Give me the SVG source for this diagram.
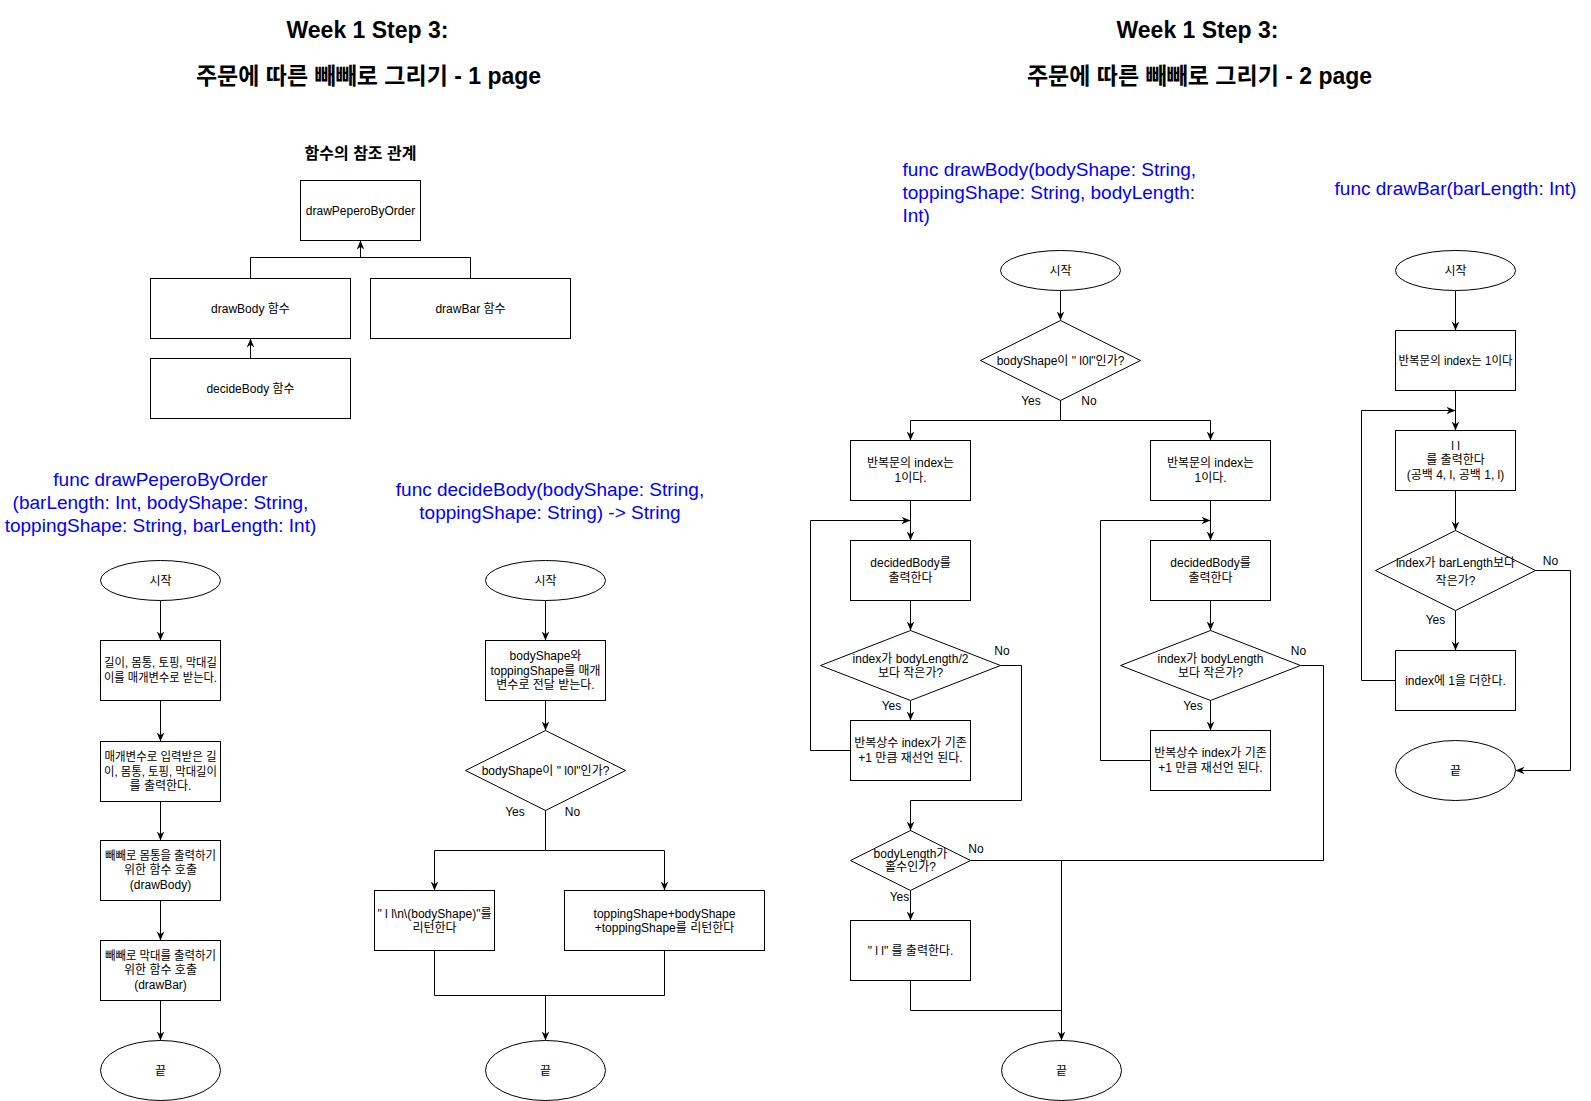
<svg xmlns="http://www.w3.org/2000/svg" width="1591" height="1101" viewBox="0 0 1591 1101">
<defs>
<style>
.n{fill:#fff;stroke:#000;stroke-width:1}
.e{fill:none;stroke:#000;stroke-width:1}
.a{marker-end:url(#arr)}
.t{font-family:"Liberation Sans","Noto Sans CJK KR",sans-serif;font-size:12px;fill:#000;text-anchor:middle}
.b{font-family:"Liberation Sans","Noto Sans CJK KR",sans-serif;font-size:19px;fill:#0000FF}
.bc{text-anchor:middle}
.h{font-family:"Liberation Sans","Noto Sans CJK KR",sans-serif;font-size:23px;font-weight:bold;fill:#000;text-anchor:middle}
.h2{font-family:"Liberation Sans","Noto Sans CJK KR",sans-serif;font-size:16px;font-weight:bold;fill:#000;text-anchor:middle}
</style>
<marker id="arr" viewBox="0 0 10 10" refX="10" refY="5" markerWidth="9" markerHeight="9" markerUnits="userSpaceOnUse" orient="auto">
<path d="M0,0.8 L10,5 L0,9.2 L3,5 Z" fill="#000"/>
</marker>
</defs>
<rect x="0" y="0" width="1591" height="1101" fill="#fff"/>
<g transform="translate(0.5,0.5)">

<g id="titles">
<text class="h" x="367" y="37">Week 1 Step 3:</text>
<text class="h" x="368" y="83">주문에 따른 빼빼로 그리기 - 1 page</text>
<text class="h" x="1197" y="37">Week 1 Step 3:</text>
<text class="h" x="1199" y="83">주문에 따른 빼빼로 그리기 - 2 page</text>
<text class="h2" x="360" y="158">함수의 참조 관계</text>
<text class="b bc" x="160" y="485.5">func drawPeperoByOrder</text>
<text class="b bc" x="160" y="508.5">(barLength: Int, bodyShape: String,</text>
<text class="b bc" x="160" y="531.5">toppingShape: String, barLength: Int)</text>
<text class="b bc" x="549.5" y="495.5">func decideBody(bodyShape: String,</text>
<text class="b bc" x="549.5" y="518.5">toppingShape: String) -&gt; String</text>
<text class="b" x="902" y="175">func drawBody(bodyShape: String,</text>
<text class="b" x="902" y="198">toppingShape: String, bodyLength:</text>
<text class="b" x="902" y="221">Int)</text>
<text class="b bc" x="1455" y="194.5">func drawBar(barLength: Int)</text>
</g>

<g id="connectors">
<path class="e" d="M250,278 V257 H470 V278"/>
<path class="e a" d="M360,257 V240"/>
<path class="e a" d="M250,358 V338"/>

<path class="e a" d="M160,600 V640"/>
<path class="e a" d="M160,700 V741"/>
<path class="e a" d="M160,801 V840"/>
<path class="e a" d="M160,900 V940"/>
<path class="e a" d="M160,1000 V1040"/>

<path class="e a" d="M545,600 V640"/>
<path class="e a" d="M545,700 V730"/>
<path class="e" d="M545,810 V850"/>
<path class="e a" d="M545,850 H434 V890"/>
<path class="e a" d="M545,850 H664 V890"/>
<path class="e" d="M434,950 V995 H664 V950"/>
<path class="e a" d="M545,995 V1040"/>

<path class="e a" d="M1060,290 V320"/>
<path class="e a" d="M1060,400 V420 H910 V440"/>
<path class="e a" d="M1060,420 H1210 V440"/>
<path class="e a" d="M910,500 V540"/>
<path class="e a" d="M1210,500 V540"/>
<path class="e a" d="M910,600 V630"/>
<path class="e a" d="M1210,600 V630"/>
<path class="e a" d="M910,700 V720"/>
<path class="e a" d="M1210,700 V730"/>
<path class="e a" d="M850,750 H810 V520 H910"/>
<path class="e a" d="M1150,760 H1100 V520 H1210"/>
<path class="e a" d="M1000,665 H1021 V800 H910 V830"/>
<path class="e" d="M1300,665 H1323 V860 H970"/>
<path class="e a" d="M910,890 V920"/>
<path class="e" d="M910,980 V1010 H1061"/>
<path class="e a" d="M1061,860 V1040"/>

<path class="e a" d="M1455,290 V330"/>
<path class="e a" d="M1455,390 V430"/>
<path class="e a" d="M1395,680 H1361 V410 H1455"/>
<path class="e a" d="M1455,490 V530"/>
<path class="e a" d="M1455,610 V650"/>
<path class="e a" d="M1535,570 H1570 V770 H1515"/>
</g>

<g id="labels">
<text class="t" x="514.5" y="815">Yes</text>
<text class="t" x="572" y="815">No</text>
<text class="t" x="1030.5" y="404">Yes</text>
<text class="t" x="1088.5" y="404">No</text>
<text class="t" x="1001.5" y="654">No</text>
<text class="t" x="1298" y="654">No</text>
<text class="t" x="891" y="709">Yes</text>
<text class="t" x="1192.5" y="709">Yes</text>
<text class="t" x="975.5" y="852">No</text>
<text class="t" x="899" y="900.5">Yes</text>
<text class="t" x="1550" y="564">No</text>
<text class="t" x="1435" y="623">Yes</text>
</g>

<g id="ref-drawPeperoByOrder"><rect class="n" x="300" y="180" width="120" height="60"/><text class="t" x="360" y="214">drawPeperoByOrder</text></g>
<g id="ref-drawBody"><rect class="n" x="150" y="278" width="200" height="60"/><text class="t" x="250" y="312">drawBody 함수</text></g>
<g id="ref-drawBar"><rect class="n" x="370" y="278" width="200" height="60"/><text class="t" x="470" y="312">drawBar 함수</text></g>
<g id="ref-decideBody"><rect class="n" x="150" y="358" width="200" height="60"/><text class="t" x="250" y="392">decideBody 함수</text></g>

<g id="p-start"><ellipse class="n" cx="160" cy="580" rx="60" ry="20"/><text class="t" x="160" y="584">시작</text></g>
<g id="p-params"><rect class="n" x="100" y="640" width="120" height="60"/>
<text class="t" x="160" y="666.5" textLength="113" lengthAdjust="spacingAndGlyphs">길이, 몸통, 토핑, 막대길</text>
<text class="t" x="160" y="681.5" textLength="113" lengthAdjust="spacingAndGlyphs">이를 매개변수로 받는다.</text></g>
<g id="p-print"><rect class="n" x="100" y="741" width="120" height="60"/>
<text class="t" x="160" y="760.5" textLength="112" lengthAdjust="spacingAndGlyphs">매개변수로 입력받은 길</text>
<text class="t" x="160" y="775" textLength="113" lengthAdjust="spacingAndGlyphs">이, 몸통, 토핑, 막대길이</text>
<text class="t" x="160" y="789.5">를 출력한다.</text></g>
<g id="p-callBody"><rect class="n" x="100" y="840" width="120" height="60"/>
<text class="t" x="160" y="859" textLength="111" lengthAdjust="spacingAndGlyphs">빼빼로 몸통을 출력하기</text>
<text class="t" x="160" y="873.5">위한 함수 호출</text>
<text class="t" x="160" y="888">(drawBody)</text></g>
<g id="p-callBar"><rect class="n" x="100" y="940" width="120" height="60"/>
<text class="t" x="160" y="959" textLength="111" lengthAdjust="spacingAndGlyphs">빼빼로 막대를 출력하기</text>
<text class="t" x="160" y="973.5">위한 함수 호출</text>
<text class="t" x="160" y="988">(drawBar)</text></g>
<g id="p-end"><ellipse class="n" cx="160" cy="1070" rx="60" ry="30"/><text class="t" x="160" y="1074">끝</text></g>

<g id="d-start"><ellipse class="n" cx="545" cy="580" rx="60" ry="20"/><text class="t" x="545" y="584">시작</text></g>
<g id="d-params"><rect class="n" x="485" y="640" width="120" height="60"/>
<text class="t" x="545" y="659.5">bodyShape와</text>
<text class="t" x="545" y="674" textLength="110" lengthAdjust="spacingAndGlyphs">toppingShape를 매개</text>
<text class="t" x="545" y="688.5">변수로 전달 받는다.</text></g>
<g id="d-cond"><polygon class="n" points="465,770 545,730 625,770 545,810"/><text class="t" x="545" y="774">bodyShape이 " l0l"인가?</text></g>
<g id="d-yes"><rect class="n" x="374" y="890" width="120" height="60"/>
<text class="t" x="434" y="917" textLength="114" lengthAdjust="spacingAndGlyphs">" l l\n\(bodyShape)"를</text>
<text class="t" x="434" y="931.5">리턴한다</text></g>
<g id="d-no"><rect class="n" x="564" y="890" width="200" height="60"/>
<text class="t" x="664" y="917">toppingShape+bodyShape</text>
<text class="t" x="664" y="931.5">+toppingShape를 리턴한다</text></g>
<g id="d-end"><ellipse class="n" cx="545" cy="1070" rx="60" ry="30"/><text class="t" x="545" y="1074">끝</text></g>

<g id="b-start"><ellipse class="n" cx="1060" cy="270" rx="60" ry="20"/><text class="t" x="1060" y="274">시작</text></g>
<g id="b-cond"><polygon class="n" points="980,360 1060,320 1140,360 1060,400"/><text class="t" x="1060" y="364">bodyShape이 " l0l"인가?</text></g>
<g id="b-initL"><rect class="n" x="850" y="440" width="120" height="60"/>
<text class="t" x="910" y="466.5">반복문의 index는</text>
<text class="t" x="910" y="481.5">1이다.</text></g>
<g id="b-initR"><rect class="n" x="1150" y="440" width="120" height="60"/>
<text class="t" x="1210" y="466.5">반복문의 index는</text>
<text class="t" x="1210" y="481.5">1이다.</text></g>
<g id="b-printL"><rect class="n" x="850" y="540" width="120" height="60"/>
<text class="t" x="910" y="566.5">decidedBody를</text>
<text class="t" x="910" y="581.5">출력한다</text></g>
<g id="b-printR"><rect class="n" x="1150" y="540" width="120" height="60"/>
<text class="t" x="1210" y="566.5">decidedBody를</text>
<text class="t" x="1210" y="581.5">출력한다</text></g>
<g id="b-loopL"><polygon class="n" points="820,665 910,630 1000,665 910,700"/>
<text class="t" x="910" y="662">index가 bodyLength/2</text>
<text class="t" x="910" y="676">보다 작은가?</text></g>
<g id="b-loopR"><polygon class="n" points="1120,665 1210,630 1300,665 1210,700"/>
<text class="t" x="1210" y="662">index가 bodyLength</text>
<text class="t" x="1210" y="676">보다 작은가?</text></g>
<g id="b-incL"><rect class="n" x="850" y="720" width="120" height="60"/>
<text class="t" x="910" y="746.5">반복상수 index가 기존</text>
<text class="t" x="910" y="761.5">+1 만큼 재선언 된다.</text></g>
<g id="b-incR"><rect class="n" x="1150" y="730" width="120" height="60"/>
<text class="t" x="1210" y="756.5">반복상수 index가 기존</text>
<text class="t" x="1210" y="771.5">+1 만큼 재선언 된다.</text></g>
<g id="b-odd"><polygon class="n" points="850,860 910,830 970,860 910,890"/>
<text class="t" x="910" y="857">bodyLength가</text>
<text class="t" x="910" y="870.5">홀수인가?</text></g>
<g id="b-printMid"><rect class="n" x="850" y="920" width="120" height="60"/>
<text class="t" x="910" y="954">" l l" 를 출력한다.</text></g>
<g id="b-end"><ellipse class="n" cx="1061" cy="1070" rx="60" ry="30"/><text class="t" x="1061" y="1074">끝</text></g>

<g id="r-start"><ellipse class="n" cx="1455" cy="270" rx="60" ry="20"/><text class="t" x="1455" y="274">시작</text></g>
<g id="r-init"><rect class="n" x="1395" y="330" width="120" height="60"/>
<text class="t" x="1455" y="364" textLength="114" lengthAdjust="spacingAndGlyphs">반복문의 index는 1이다</text></g>
<g id="r-print"><rect class="n" x="1395" y="430" width="120" height="60"/>
<text class="t" x="1455" y="449">l l</text>
<text class="t" x="1455" y="463">를 출력한다</text>
<text class="t" x="1455" y="478">(공백 4, l, 공백 1, l)</text></g>
<g id="r-cond"><polygon class="n" points="1375,570 1455,530 1535,570 1455,610"/>
<text class="t" x="1455" y="566.5">index가 barLength보다</text>
<text class="t" x="1455" y="584">작은가?</text></g>
<g id="r-inc"><rect class="n" x="1395" y="650" width="120" height="60"/>
<text class="t" x="1455" y="684">index에 1을 더한다.</text></g>
<g id="r-end"><ellipse class="n" cx="1455" cy="770" rx="60" ry="30"/><text class="t" x="1455" y="774">끝</text></g>

</g>
</svg>
